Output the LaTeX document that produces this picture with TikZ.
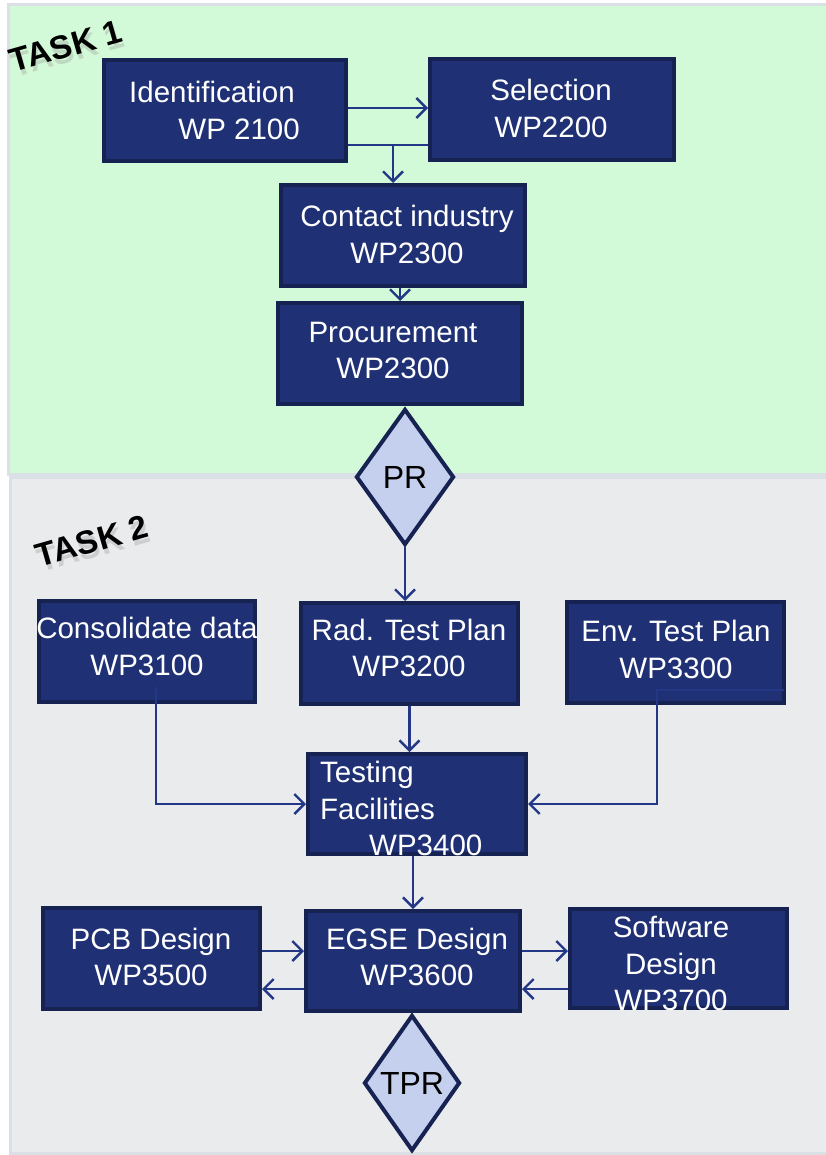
\documentclass[tikz,border=0pt]{standalone}
\usepackage{fontspec}
\setmainfont{Liberation Sans}
\usetikzlibrary{shapes.geometric,arrows.meta}

\definecolor{navy}{RGB}{31,49,116}
\definecolor{navyedge}{RGB}{22,34,82}
\definecolor{linkblue}{RGB}{35,55,134}
\definecolor{gatefill}{RGB}{197,208,238}
\definecolor{mint}{RGB}{211,250,216}
\definecolor{panelgray}{RGB}{233,235,237}
\definecolor{paneledge}{RGB}{218,224,229}

\newcommand\wpfont{\fontsize{29.5pt}{36.5pt}\selectfont}

\begin{document}
\begin{tikzpicture}[x=1pt,y=-1pt,
  panel/.style={draw=paneledge, line width=3pt},
  wpbox/.style={draw=navyedge, fill=navy, line width=4pt, inner sep=0pt,
                minimum height=101pt},
  wptext/.style={text=white, font=\wpfont, inner sep=0pt, anchor=base, align=center},
  gate/.style={diamond, draw=navyedge, fill=gatefill, line width=4pt, inner sep=0pt,
               font=\fontsize{32pt}{36pt}\selectfont, text=black},
  tasklbl/.style={font=\fontsize{33pt}{36pt}\selectfont\bfseries, rotate=16, inner sep=0pt},
  link/.style={draw=linkblue, line width=2.4pt},
  arr/.style={link, -{Straight Barb[length=10pt,width=20pt]}}
]
\useasboundingbox (0,0) rectangle (826,1155);
\fill[white] (0,0) rectangle (826,1155);

% task panels
\draw[panel, fill=mint] (8,5) rectangle (832,474);
\draw[panel, fill=panelgray] (10,477) rectangle (832,1153);

% task captions with their soft shade
\node[tasklbl, text=black!40, opacity=.35] (task1shade) at (68,51) {TASK 1};
\node[tasklbl] (task1) at (66,46) {TASK 1};
\node[tasklbl, text=black!40, opacity=.35] (task2shade) at (94,546) {TASK 2};
\node[tasklbl] (task2) at (92,541) {TASK 2};

% work packages
\node[wpbox, minimum width=242pt] (ident)   at (225,110.5) {};
\node[wpbox, minimum width=244pt] (sel)     at (552,109.5) {};
\node[wpbox, minimum width=244pt] (contact) at (403,235.5) {};
\node[wpbox, minimum width=244pt] (proc)    at (400,353.5) {};
\node[wpbox, minimum width=216pt] (consol)  at (147,651.5) {};
\node[wpbox, minimum width=217pt] (rad)     at (409.5,653.5) {};
\node[wpbox, minimum width=217pt] (env)     at (675.5,652.5) {};
\node[wpbox, minimum width=218pt, minimum height=100pt] (test) at (417,804) {};
\node[wpbox, minimum width=214pt, minimum height=100pt] (egse) at (413,961) {};
\node[wpbox, minimum width=217pt] (pcb)     at (151.5,958.5) {};
\node[wpbox, minimum width=217pt, minimum height=99pt] (soft) at (678.5,958.5) {};

% helper levels and bend points
\coordinate (y108) at (0,108);
\coordinate (y145) at (0,145);
\coordinate (split) at (393,145);
\coordinate (y951) at (0,951);
\coordinate (y989) at (0,989);
\coordinate (consolout) at (156,687);
\coordinate (envout) at (784,690);
\coordinate (envbend) at (657,690);

% task 1 flow
\draw[arr] (ident.east |- y108) -- (sel.west |- y108);
\draw[link] (ident.east |- y145) -- (sel.west |- y145);
\draw[arr] (split) -- (split |- contact.north);
\draw[arr] (proc.north |- contact.south) -- (proc.north);

% task 2 flow
\draw[arr] (consolout) |- (test.west);
\draw[arr] (envout) -- (envbend) |- (test.east);
\draw[arr] (rad.south) -- (rad.south |- test.north);
\draw[arr] (egse.north |- test.south) -- (egse.north);
\draw[arr] (pcb.east |- y951) -- (egse.west |- y951);
\draw[arr] (egse.west |- y989) -- (pcb.east |- y989);
\draw[arr] (egse.east |- y951) -- (soft.west |- y951);
\draw[arr] (soft.west |- y989) -- (egse.east |- y989);

% work package captions (placed by the baseline of their last line)
\node[wptext, anchor=base east, align=right] (identtxt) at (300,139.5)
  {Identification\hspace*{5pt}\\WP 2100};
\node[wptext] (seltxt)     at (551,137.5) {Selection\\WP2200};
\node[wptext] (contacttxt) at (407,263.5) {Contact industry\\WP2300};
\node[wptext] (proctxt)    at (393,378.5) {Procurement\\WP2300};
\node[wptext] (consoltxt)  at (147,675) {Consolidate data\\WP3100};
\node[wptext] (radtxt)     at (409,676.5) {Rad. Test Plan\\WP3200};
\node[wptext] (envtxt)     at (676,678) {Env. Test Plan\\WP3300};
\node[wptext, anchor=base west, align=left] (testtxt) at (320,855.5)
  {Testing\\Facilities\\\hspace*{49pt}WP3400};
\node[wptext] (egsetxt)    at (417,985.5) {EGSE Design\\WP3600};
\node[wptext] (pcbtxt)     at (151,985.5) {PCB Design\\WP3500};
\node[wptext] (softtxt)    at (671,1010.5) {Software\\Design\\WP3700};

% review gates
\node[gate, minimum width=98pt, minimum height=136pt] (pr)  at (405,477) {PR};
\node[gate, minimum width=96pt, minimum height=136pt] (tpr) at (412,1083) {TPR};
\draw[arr] (pr.south) -- (pr.south |- rad.north);
\end{tikzpicture}
\end{document}
